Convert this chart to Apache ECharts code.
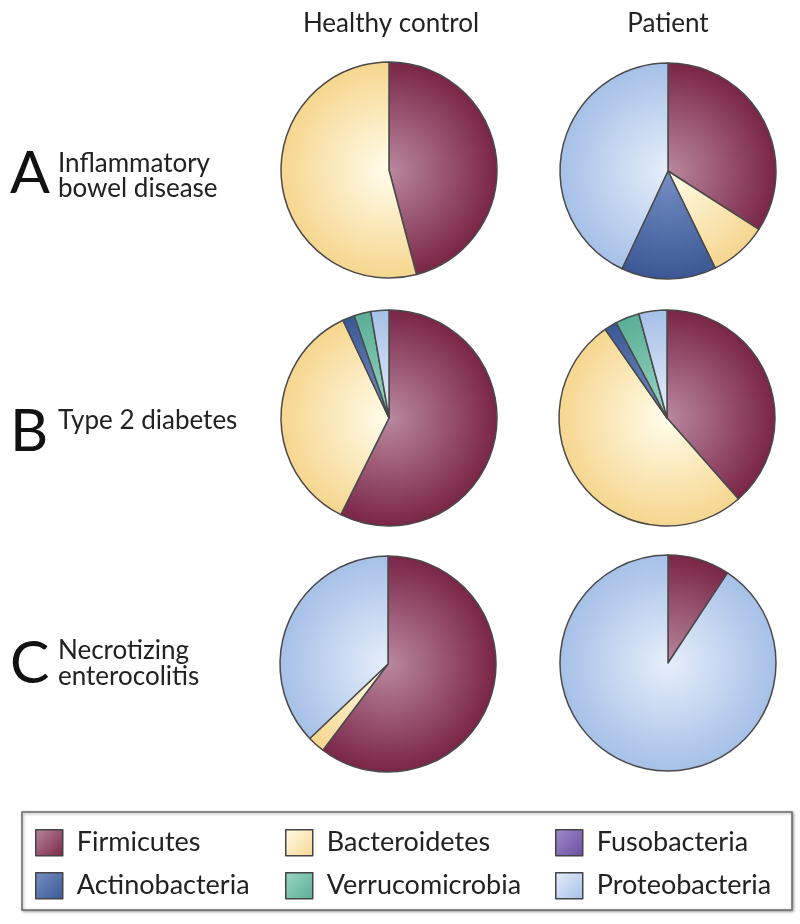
<!DOCTYPE html>
<html><head><meta charset="utf-8">
<script src="https://cdn.jsdelivr.net/npm/echarts@6/dist/echarts.min.js"></script>
<style>html,body{margin:0;padding:0;background:#fff}#c{width:800px;height:924px}</style>
</head><body><div id="c"></div>
<script>
// ---- data ----
const phyla = ['Firmicutes','Bacteroidetes','Fusobacteria','Actinobacteria','Verrucomicrobia','Proteobacteria'];
const columnTitles = ['Healthy control','Patient'];
const rowLetters = ['A','B','C'];
const rowLabels = [['Inflammatory','bowel disease'],['Type 2 diabetes'],['Necrotizing','enterocolitis']];
// percentages, in the order of `phyla`
const ibdControl = [45.9, 54.1, 0, 0, 0, 0];
const ibdPatient = [34.1, 8.7, 0, 14.2, 0, 43.0];
const t2dControl = [57.3, 35.6, 0, 1.8, 2.5, 2.7];
const t2dPatient = [38.5, 51.8, 0, 1.9, 3.6, 4.2];
const necControl = [60.3, 2.6, 0, 0, 0, 37.1];
const necPatient = [9.3, 0, 0, 0, 0, 90.7];

// ---- styles ----
const innerColors = ['#b9889e','#fffdeb','#a18bcc','#7690c4','#9ad6c3','#e6eefa'];
const outerColors = ['#7a2547','#f6d68f','#6a4ea0','#3b5896','#5aae97','#a6c0e7'];
const font = 'Lato, "Open Sans", sans-serif';
const R = 108;
const pies = [
  {vals: ibdControl, c: [389,170]},
  {vals: ibdPatient, c: [668,171]},
  {vals: t2dControl, c: [389,418]},
  {vals: t2dPatient, c: [667,418]},
  {vals: necControl, c: [388,664]},
  {vals: necPatient, c: [668,663]}
];

function radial(cx, cy, i){
  return {type:'radial', x:cx, y:cy, r:R, global:true,
    colorStops:[{offset:0,color:innerColors[i]},{offset:1,color:outerColors[i]}]};
}

const series = pies.map((p, k) => ({
  type:'pie', center:p.c, radius:[0,R], startAngle:90, clockwise:true,
  label:{show:false}, labelLine:{show:false}, silent:true, animation:false,
  emphasis:{disabled:true},
  data: phyla.map((name,i)=>({name, value:p.vals[i],
      itemStyle:{color:radial(p.c[0],p.c[1],i), borderColor:'#4a4a4a', borderWidth:p.vals[i]>0?1.5:0}}))
    .filter((d,i)=> p.vals[i]>0 || (k===0 && i===2))
}));

const legendPos = [[35,829],[285,829],[555,829],[35,872],[285,872],[555,872]];
const legendOrder = ['Firmicutes','Bacteroidetes','Fusobacteria','Actinobacteria','Verrucomicrobia','Proteobacteria'];
const legends = legendOrder.map((name, j) => {
  const i = phyla.indexOf(name);
  return {
    left:legendPos[j][0], top:legendPos[j][1], padding:0, orient:'horizontal',
    itemWidth:27, itemHeight:26, icon:'rect', selectedMode:false,
    textStyle:{fontFamily:font, fontSize:27, color:'#222', padding:[0,0,0,9]},
    data:[{name, itemStyle:{color:{type:'linear',x:0,y:0,x2:1,y2:1,
      colorStops:[{offset:0,color:innerColors[i]},{offset:1,color:outerColors[i]}]},
      borderColor:'#444', borderWidth:1.5}}]
  };
});

const graphics = [];
graphics.push({type:'rect', shape:{x:22,y:812,width:770,height:98},
  style:{fill:'#fff', stroke:'#6a6a6a', lineWidth:1.5, shadowBlur:3, shadowColor:'rgba(0,0,0,0.35)', shadowOffsetX:1, shadowOffsetY:1}, z:-1});
const colX = [391, 668];
columnTitles.forEach((t,i)=>graphics.push({type:'text', x:colX[i], y:24,
  style:{text:t, font:'26px '+font, fill:'#222', align:'center', verticalAlign:'middle'}}));
const letterY = [174, 432, 664];
const labelY = [[164,189],[421],[651,677]];
rowLetters.forEach((L,r)=>{
  graphics.push({type:'text', x:10, y:letterY[r],
    style:{text:L, font:'59px '+font, fill:'#111', align:'left', verticalAlign:'middle'}});
  rowLabels[r].forEach((line,li)=>graphics.push({type:'text', x:58, y:labelY[r][li],
    style:{text:line, font:'26px '+font, fill:'#222', align:'left', verticalAlign:'middle'}}));
});

const chart = echarts.init(document.getElementById('c'), null, {renderer:'canvas'});
chart.setOption({
  backgroundColor:'#fff', animation:false,
  legend: legends,
  series,
  graphic: graphics
});
</script></body></html>
